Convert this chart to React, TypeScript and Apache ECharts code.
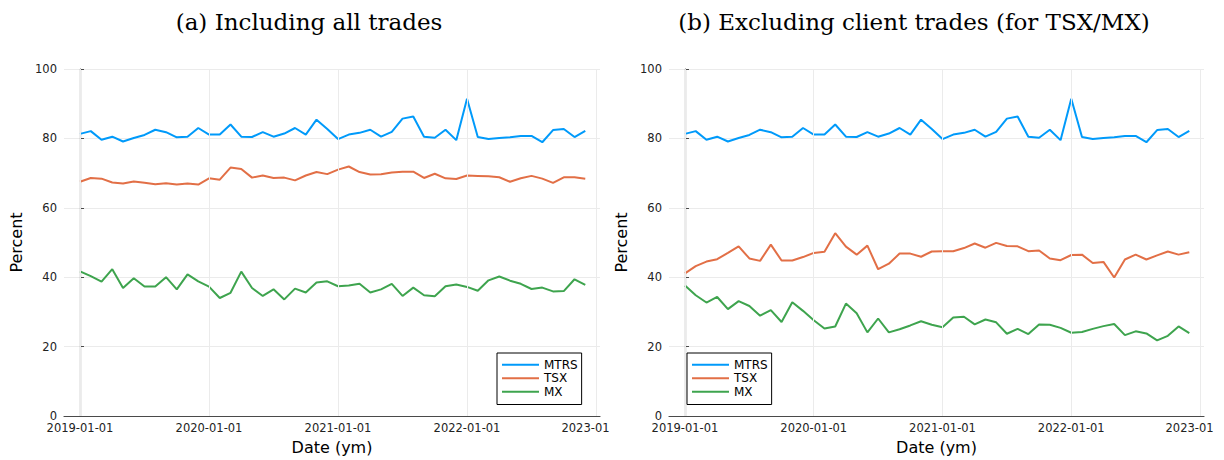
import React, { useEffect, useRef } from "react";
import * as echarts from "echarts";

const months: string[] = [];
for (let y = 2019; y <= 2022; y++) for (let m = 1; m <= 12; m++) months.push(`${y}-${String(m).padStart(2, "0")}`);

const xTickValues = [0, 12, 24, 36, 48];
const xTickLabels = ["2019-01-01", "2020-01-01", "2021-01-01", "2022-01-01", "2023-01"];

const mtrs = [81.3, 82.1, 79.6, 80.5, 79.1, 80.1, 81.0, 82.5, 81.8, 80.3, 80.5, 83.0,
  81.1, 81.1, 84.0, 80.5, 80.4, 81.8, 80.5, 81.4, 83.0, 81.1, 85.4, 82.7,
  79.8, 81.1, 81.6, 82.5, 80.5, 81.9, 85.7, 86.3, 80.5, 80.2, 82.5, 79.5,
  91.4, 80.4, 79.8, 80.1, 80.3, 80.7, 80.7, 78.9, 82.4, 82.7, 80.4, 82.2];

const tsxAll = [67.5, 68.6, 68.4, 67.3, 67.0, 67.6, 67.2, 66.8, 67.1, 66.7, 67.0, 66.7,
  68.5, 68.1, 71.6, 71.2, 68.7, 69.3, 68.6, 68.7, 67.9, 69.3, 70.3, 69.7,
  71.0, 71.9, 70.3, 69.6, 69.7, 70.2, 70.4, 70.4, 68.6, 69.8, 68.5, 68.3,
  69.3, 69.2, 69.1, 68.8, 67.5, 68.5, 69.2, 68.4, 67.2, 68.8, 68.8, 68.4];

const mxAll = [41.7, 40.3, 38.7, 42.3, 36.9, 39.7, 37.3, 37.3, 40.0, 36.5, 40.8, 38.8,
  37.3, 34.0, 35.5, 41.6, 36.9, 34.6, 36.5, 33.6, 36.7, 35.6, 38.5, 38.8,
  37.4, 37.6, 38.1, 35.6, 36.5, 38.1, 34.6, 37.0, 34.8, 34.5, 37.4, 37.9,
  37.2, 36.1, 39.1, 40.2, 39.0, 38.1, 36.6, 37.0, 35.9, 36.0, 39.4, 37.8];

const tsxExcl = [41.1, 43.2, 44.5, 45.2, 47.0, 48.9, 45.4, 44.7, 49.4, 44.8, 44.8, 45.8,
  47.0, 47.3, 52.7, 48.8, 46.5, 49.1, 42.3, 43.9, 46.8, 46.8, 45.9, 47.4,
  47.5, 47.5, 48.4, 49.7, 48.5, 49.9, 49.0, 48.9, 47.5, 47.7, 45.4, 44.9,
  46.4, 46.5, 44.1, 44.4, 39.9, 45.1, 46.5, 45.1, 46.3, 47.4, 46.5, 47.2];

const mxExcl = [37.6, 34.8, 32.7, 34.3, 30.8, 33.1, 31.7, 28.9, 30.5, 27.1, 32.8, 30.3,
  27.6, 25.2, 25.8, 32.4, 29.6, 24.1, 28.1, 24.1, 25.0, 26.1, 27.3, 26.3,
  25.6, 28.4, 28.6, 26.4, 27.8, 27.0, 23.7, 25.1, 23.6, 26.4, 26.3, 25.4,
  24.0, 24.2, 25.1, 25.9, 26.5, 23.3, 24.4, 23.8, 21.8, 23.1, 25.8, 23.9];

const seriesNames = ["MTRS", "TSX", "MX"];
const colors = ["#009AFA", "#E26F46", "#3EA44E"];
const titles = ["(a) Including all trades", "(b) Excluding client trades (for TSX/MX)"];

const SANS = "DejaVu Sans";
const AXIS_COLOR = "#4a4a4a";
const GRID_COLOR = "#ebebeb";

export default function App() {
  const ref = useRef<HTMLDivElement>(null);
  useEffect(() => {
    if (!ref.current) return;
    const chart = echarts.init(ref.current, null, { renderer: "svg" });
    const panels = [
      [mtrs, tsxAll, mxAll],
      [mtrs, tsxExcl, mxExcl],
    ];
    const grids = [
      { left: 64, top: 69, width: 536, height: 348 },
      { left: 669, top: 69, width: 535, height: 348 },
    ];
    const xAxes = grids.map((_, gi) => ({
      type: "value",
      gridIndex: gi,
      min: -1.49,
      max: 48.37,
      name: "Date (ym)",
      nameLocation: "middle",
      nameGap: 23,
      nameTextStyle: { fontFamily: SANS, fontSize: 16, color: "#000" },
      axisLine: { show: true, lineStyle: { color: AXIS_COLOR, width: 1.2 } },
      axisTick: { show: true, inside: true, length: 4, customValues: xTickValues, lineStyle: { color: AXIS_COLOR } },
      axisLabel: {
        customValues: xTickValues,
        margin: 6,
        fontFamily: SANS,
        fontSize: 11.5,
        color: "#222",
        formatter: (v: number) => {
          const idx = xTickValues.indexOf(Math.round(v));
          const t = idx >= 0 ? xTickLabels[idx] : "";
          return idx === xTickValues.length - 1 ? `{last|${t}}` : t;
        },
        rich: { last: { fontFamily: SANS, fontSize: 11.5, color: "#222", padding: [0, 21, 0, 0] } },
      },
      splitLine: { show: false },
    }));
    const yAxes = grids.map((_, gi) => ({
      type: "value",
      gridIndex: gi,
      min: 0,
      max: 100,
      interval: 20,
      name: "Percent",
      nameLocation: "middle",
      nameGap: 40,
      nameTextStyle: { fontFamily: SANS, fontSize: 16, color: "#000" },
      axisLine: { show: true, lineStyle: { color: AXIS_COLOR, width: 1.2 } },
      axisTick: { show: true, inside: true, length: 4, lineStyle: { color: AXIS_COLOR } },
      axisLabel: { margin: 7, fontFamily: SANS, fontSize: 11.5, color: "#222" },
      splitLine: { show: true, lineStyle: { color: GRID_COLOR, width: 1 } },
    }));
    const series: any[] = [];
    panels.forEach((vals, gi) => {
      series.push({
        type: "line",
        name: "_grid" + gi,
        xAxisIndex: gi,
        yAxisIndex: gi,
        data: [],
        z: 1,
        silent: true,
        markLine: {
          silent: true,
          symbol: ["none", "none"],
          label: { show: false },
          lineStyle: { color: GRID_COLOR, type: "solid", width: 1 },
          data: xTickValues.map((v) => ({ xAxis: v })),
        },
      });
      vals.forEach((arr, si) => {
        series.push({
          type: "line",
          name: seriesNames[si],
          xAxisIndex: gi,
          yAxisIndex: gi,
          data: arr.map((v, i) => [months.indexOf(months[i]), v]),
          showSymbol: false,
          symbol: "none",
          z: 3,
          lineStyle: { color: colors[si], width: 2 },
          itemStyle: { color: colors[si] },
        });
      });
    });
    const legendBase = {
      orient: "vertical",
      data: seriesNames,
      icon: "rect",
      itemWidth: 37,
      itemHeight: 2,
      itemGap: 0,
      padding: [5, 4, 6, 5],
      borderColor: "#000",
      borderWidth: 1,
      backgroundColor: "#fff",
      selectedMode: false,
      textStyle: { fontFamily: SANS, fontSize: 12, lineHeight: 13.5, color: "#000" },
    };
    chart.setOption({
      animation: false,
      backgroundColor: "#fff",
      grid: grids,
      xAxis: xAxes,
      yAxis: yAxes,
      legend: [
        { ...legendBase, left: 497, top: 353 },
        { ...legendBase, left: 687, top: 353 },
      ],
      graphic: titles.map((t, i) => ({
        type: "text",
        x: i === 0 ? 309 : 914,
        y: 22,
        style: {
          text: t,
          font: '23px "DejaVu Serif"',
          fill: "#000",
          textAlign: "center",
          textVerticalAlign: "middle",
        },
      })),
      series,
    });
    return () => chart.dispose();
  }, []);
  return (
    <div
      ref={ref}
      style={{ position: "absolute", left: 0, top: 0, width: 1224, height: 460 }}
    />
  );
}
